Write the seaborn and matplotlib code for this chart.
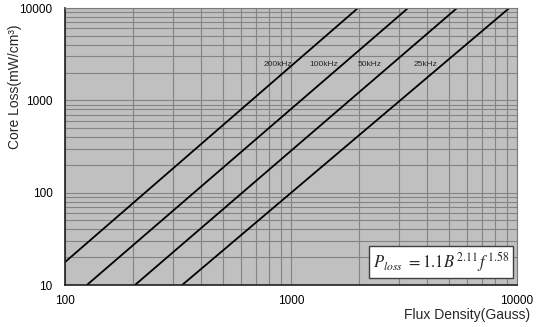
import matplotlib
matplotlib.use("Agg")
import matplotlib.pyplot as plt
from matplotlib.ticker import LogLocator, NullFormatter, FixedLocator, FixedFormatter
import numpy as np
import pandas as pd
import seaborn as sns

# ---- data ----
freqs = ["200kHz", "100kHz", "50kHz", "25kHz"]
b_start = [100, 125, 204, 330]        # Gauss, lower end of each line
p_start = [17.7, 10, 10, 10]          # mW/cm3
b_end = [1980, 3300, 5430, 9250]      # Gauss, upper end of each line
p_end = [10000, 10000, 10000, 10000]
x_ticks = [100, 1000, 10000]
y_ticks = [10, 100, 1000, 10000]

rows = []
for f, b0, p0, b1, p1 in zip(freqs, b_start, p_start, b_end, p_end):
    rows.append({"freq": f, "B": b0, "P": p0})
    rows.append({"freq": f, "B": b1, "P": p1})
df = pd.DataFrame(rows)

sns.set_style("white")
plt.rcParams["font.family"] = ["Liberation Sans", "DejaVu Sans"]
plt.rcParams["mathtext.fontset"] = "stix"

fig = plt.figure(figsize=(5.37, 3.27), dpi=100)
ax = fig.add_axes([0.121, 0.1284, 0.8417, 0.8471])
ax.set_facecolor("#c0c0c0")

sns.lineplot(data=df, x="B", y="P", hue="freq", palette=["black"] * 4,
             legend=False, ax=ax, lw=1.3, estimator=None, sort=True)

ax.set_xscale("log")
ax.set_yscale("log")
ax.set_xlim(100, 10000)
ax.set_ylim(10, 10000)

for axis, ticks in ((ax.xaxis, x_ticks), (ax.yaxis, y_ticks)):
    axis.set_major_locator(FixedLocator(ticks))
    axis.set_major_formatter(FixedFormatter([str(t) for t in ticks]))
    axis.set_minor_locator(LogLocator(base=10, subs=np.arange(2, 10)))
    axis.set_minor_formatter(NullFormatter())

ax.grid(which="both", color="#848484", lw=0.8)
ax.set_axisbelow(True)
ax.tick_params(which="both", length=0, labelsize=8.5, colors="black")
ax.tick_params(axis="x", pad=7)
ax.tick_params(axis="y", pad=9)

for s in ("top", "right"):
    ax.spines[s].set_color("#7a7a7a")
    ax.spines[s].set_linewidth(0.8)
for s in ("left", "bottom"):
    ax.spines[s].set_color("#202020")
    ax.spines[s].set_linewidth(1.2)

ax.set_xlabel("Flux Density(Gauss)", fontsize=10)
ax.xaxis.set_label_coords(1.029, -0.108)
ax.xaxis.label.set_ha("right")
ax.xaxis.label.set_va("center")
ax.set_ylabel("Core Loss(mW/cm³)", fontsize=10)
ax.yaxis.set_label_coords(-0.11, 0.715)
ax.yaxis.label.set_va("center")

# curve labels
label_x = [875, 1400, 2240, 3920]
for f, lx in zip(freqs, label_x):
    ax.text(lx, 2470, f, fontsize=6, ha="center", va="center")

ax.text(0.832, 0.083, r"$P_{loss}\ = 1.1B^{\,2.11}\,f^{\,1.58}$",
        transform=ax.transAxes, fontsize=12, ha="center", va="center",
        bbox=dict(boxstyle="square,pad=0.25", fc="white", ec="#404040", lw=1))

fig.savefig("out.png", dpi=100)
